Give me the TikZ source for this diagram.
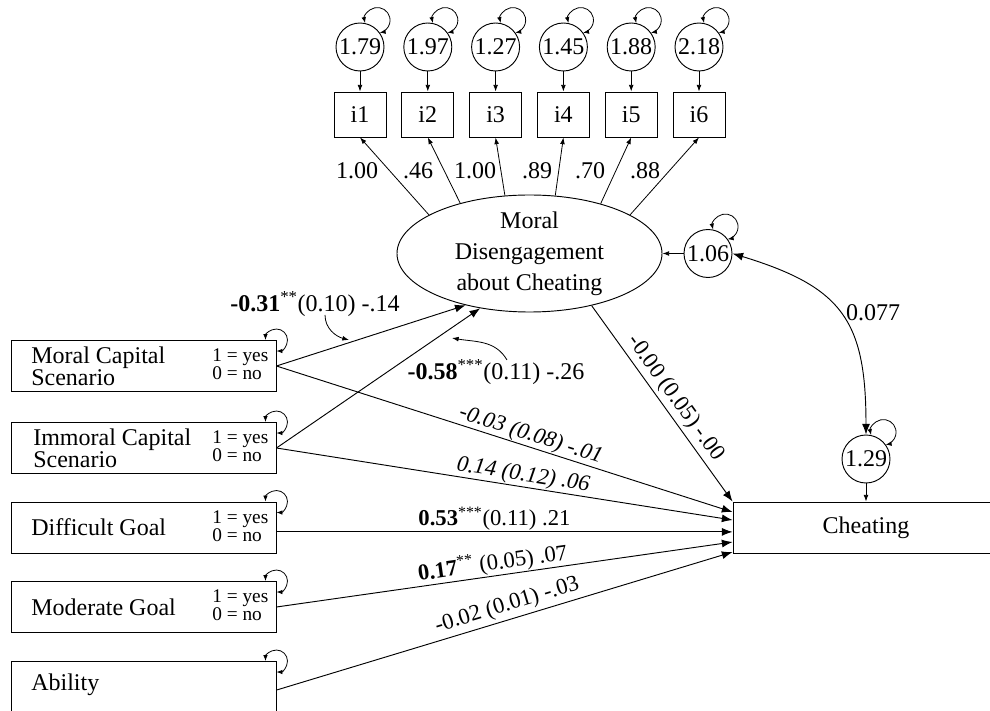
\documentclass[tikz,border=0pt]{standalone}
\usepackage{fontspec}
\setmainfont{Liberation Serif}
\usetikzlibrary{arrows.meta,shapes.geometric,calc}

\tikzset{
  resid/.style={draw, circle, minimum size=36pt, inner sep=0pt, line width=0.7pt},
  item/.style={draw, rectangle, minimum width=39pt, minimum height=33.75pt, inner sep=0pt, line width=0.7pt},
  pred/.style={draw, rectangle, minimum width=198.75pt, minimum height=38.25pt, inner sep=0pt, line width=0.7pt},
  small/.style={-{Latex[length=5pt,width=3.6pt]}, line width=0.6pt},
  big/.style={-{Latex[length=8pt,width=6pt]}, line width=0.7pt},
  loopar/.style={{Latex[length=4.5pt,width=3.4pt]}-{Latex[length=4.5pt,width=3.4pt]}, line width=0.6pt},
  lab/.style={inner sep=0.5pt, font=\fontsize{17}{20}\selectfont},
  yn/.style={font=\fontsize{14.5}{12}\selectfont, align=left, anchor=west, inner sep=0pt},
  ptxt/.style={align=left, anchor=west, inner sep=0pt, font=\fontsize{18}{15}\selectfont},
}

\begin{document}
\begin{tikzpicture}[x=0.75pt, y=0.75pt, font=\fontsize{18}{22}\selectfont]
\useasboundingbox (0,0) rectangle (990,711);

% indicators with their residual variances
\foreach \k/\x/\v in {1/360/1.79, 2/427.8/1.97, 3/495.6/1.27, 4/563.4/1.45, 5/631.2/1.88, 6/699/2.18} {
  \node[resid] (e\k) at (\x,664) {\v};
  \node[item] (i\k) at (\x,596.5) {i\k};
  \draw[small] (e\k) -- (i\k);
  \draw[loopar] (e\k.78) arc[start angle=193, end angle=-80, radius=9.5pt];
}

% latent factor
\node[draw, ellipse, minimum width=198.75pt, minimum height=87.75pt, inner sep=0pt, line width=0.7pt] (md) at (529.5,457.5) {};
\node[align=center, font=\fontsize{18}{23.25}\selectfont] (mdt) at (md) {Moral\\Disengagement\\about Cheating};

% loadings
\foreach \k/\a/\l/\lx in {1/159.4/1.00/357, 2/144.1/.46/418, 3/113.4/1.00/475, 4/66.9/.89/537, 5/35.5/.70/590, 6/21.1/.88/645} {
  \draw[small] (md.\a) -- (i\k.south);
  \node (ld\k) at (\lx,540) {\l};
}

% disturbance of the factor
\node[resid] (r1) at (708,457.5) {1.06};
\draw[small] (r1.west) -- (md.east);
\draw[loopar] (r1.78) arc[start angle=193, end angle=-80, radius=9.5pt];

% outcome (box runs past the right margin)
\node[draw, rectangle, minimum width=199.5pt, minimum height=38.25pt, inner sep=0pt, line width=0.7pt] (ch) at (866,183.5) {};
\node (cht) at (ch) {Cheating};

\node[resid] (r2) at (866,252) {1.29};
\draw[small] (r2.south) -- (ch.north);
\draw[loopar] (r2.78) arc[start angle=193, end angle=-80, radius=9.5pt];

% residual covariance
\draw[{Latex[length=8pt,width=6pt]}-{Latex[length=8pt,width=6pt]}, line width=0.7pt]
  (r1.east) to[out=-17, in=90, looseness=1.3] (r2.north);
\node (cv) at (873,398) {0.077};

% predictors
\node[pred] (mc) at (143.5,345) {};
\node[ptxt] (mct) at (31,345) {Moral Capital\\Scenario};
\node[yn] (mcy) at (212,346.5) {1 = yes\\0 = no};

\node[pred] (ic) at (143.5,263) {};
\node[ptxt] (ict) at (33,263) {Immoral Capital\\Scenario};
\node[yn] (icy) at (212,264.5) {1 = yes\\0 = no};

\node[pred] (dg) at (143.5,183.5) {};
\node[ptxt] (dgt) at (31,183.5) {Difficult Goal};
\node[yn] (dgy) at (212,185) {1 = yes\\0 = no};

\node[pred] (mg) at (143.5,104) {};
\node[ptxt] (mgt) at (31,104) {Moderate Goal};
\node[yn] (mgy) at (212,105.5) {1 = yes\\0 = no};

\node[pred] (ab) at (143.5,24) {};
\node[ptxt] (abt) at (31,26) {Ability};

\foreach \b in {mc,ic,dg,mg,ab} {
  \draw[loopar] ([xshift=-8.25pt]\b.north east) arc[start angle=180, end angle=-90, radius=8.25pt];
}

% structural paths
\draw[big] (mc.east) -- (md.219);
\draw[big] (ic.east) -- (md.228);
\draw[big] (mc.east) -- node[lab, sloped, above, pos=0.55] {\textit{-0.03 (0.08) -.01}} ([yshift=11.6pt]ch.west);
\draw[big] (ic.east) -- node[lab, sloped, above, pos=0.537] {\textit{0.14 (0.12) .06}} ([yshift=5.6pt]ch.west);
\draw[big] ([yshift=-3.3pt]dg.east) -- node[lab, above, pos=0.478] {\textbf{0.53}\textsuperscript{***}(0.11) .21} ([yshift=-3.3pt]ch.west);
\draw[big] (mg.east) -- node[lab, sloped, above, pos=0.478] {\textbf{0.17}\textsuperscript{**} (0.05) .07} ([yshift=-10.9pt]ch.west);
\draw[big] ([yshift=-2.3pt]ab.east) -- node[lab, sloped, above=2pt, pos=0.515] {-0.02 (0.01) -.03} ([yshift=-18.4pt]ch.west);
\draw[big] (md.320) -- node[lab, sloped, above=2pt, pos=0.515] {-0.00 (0.05) -.00} (ch.north west);

% coefficients of the two scenario paths to the factor
\node (l31) at (315,407) {\textbf{-0.31}\textsuperscript{**}(0.10) -.14};
\coordinate (a31) at (325,396);
\coordinate (t1) at (349,371);
\draw[small] (a31) to[out=-90, in=165] (t1);

\node (l58) at (496,339) {\textbf{-0.58}\textsuperscript{***}(0.11) -.26};
\coordinate (a58) at (507,351);
\coordinate (t2) at (452,373);
\draw[small] (a58) to[out=120, in=-10] (t2);
\end{tikzpicture}
\end{document}
